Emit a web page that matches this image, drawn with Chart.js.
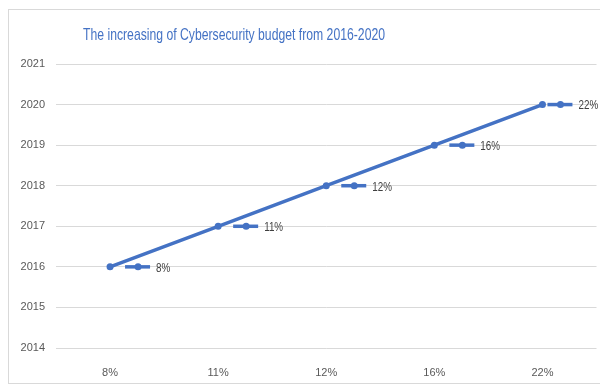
<!DOCTYPE html>
<html>
<head>
<meta charset="utf-8">
<script src="https://cdn.jsdelivr.net/npm/chart.js@4"></script>
<style>
html,body{margin:0;padding:0;background:#fff;}
#c{display:block;}
</style>
</head>
<body>
<canvas id="c" width="600" height="386"></canvas>
<script>
const categories = ['8%', '11%', '12%', '16%', '22%'];
const years = [2016, 2017, 2018, 2019, 2020];
const dataLabels = ['8%', '11%', '12%', '16%', '22%'];
const yMin = 2014, yMax = 2021;
const titleText = 'The increasing of Cybersecurity budget from 2016-2020';

const BLUE = '#4472C4';
const FONT = "'Liberation Sans', sans-serif";

function drawNarrow(ctx, text, x, y, targetW) {
  const w = ctx.measureText(text).width;
  const s = targetW ? targetW / w : 0.82;
  ctx.save();
  ctx.translate(x, y);
  ctx.scale(s, 1);
  ctx.fillText(text, 0, 0);
  ctx.restore();
}

const framePlugin = {
  id: 'frame',
  beforeDraw(chart) {
    const ctx = chart.ctx;
    ctx.save();
    ctx.fillStyle = '#fff';
    ctx.fillRect(0, 0, chart.width, chart.height);
    ctx.strokeStyle = '#d9d9d9';
    ctx.lineWidth = 1;
    ctx.strokeRect(8.5, 9.5, 600, 374);
    ctx.restore();
  },
  afterDraw(chart) {
    const ctx = chart.ctx;
    ctx.save();
    ctx.fillStyle = BLUE;
    ctx.font = "17px " + FONT;
    ctx.textBaseline = 'middle';
    ctx.textAlign = 'left';
    drawNarrow(ctx, titleText, 83, 35, 302);
    ctx.restore();
  }
};

const labelPlugin = {
  id: 'keyLabels',
  afterDatasetsDraw(chart) {
    const ctx = chart.ctx;
    const meta = chart.getDatasetMeta(0);
    ctx.save();
    meta.data.forEach((pt, i) => {
      const shift = (i === meta.data.length - 1) ? -10 : 0;
      const x = pt.x + shift, y = pt.y;
      ctx.strokeStyle = BLUE;
      ctx.lineWidth = 3.5;
      ctx.beginPath();
      ctx.moveTo(x + 15, y);
      ctx.lineTo(x + 40, y);
      ctx.stroke();
      ctx.fillStyle = BLUE;
      ctx.beginPath();
      ctx.arc(x + 28, y, 3.5, 0, Math.PI * 2);
      ctx.fill();
      ctx.fillStyle = '#404040';
      ctx.font = "12px " + FONT;
      ctx.textBaseline = 'middle';
      ctx.textAlign = 'left';
      drawNarrow(ctx, dataLabels[i], x + 46, y + 1.5);
    });
    ctx.restore();
  }
};

new Chart(document.getElementById('c'), {
  type: 'line',
  data: {
    labels: categories,
    datasets: [{
      data: years,
      borderColor: BLUE,
      backgroundColor: BLUE,
      borderWidth: 3.5,
      pointRadius: 3.5,
      pointBorderWidth: 0,
      pointHoverRadius: 3.5,
      pointBackgroundColor: BLUE,
      pointBorderColor: BLUE,
      tension: 0,
      fill: false
    }]
  },
  options: {
    responsive: false,
    animation: false,
    events: [],
    layout: { padding: { left: 0, top: 64, right: 3, bottom: 0 } },
    plugins: { legend: { display: false }, title: { display: false }, tooltip: { enabled: false } },
    scales: {
      x: {
        type: 'category',
        offset: true,
        grid: { display: false, drawTicks: false },
        border: { display: false },
        ticks: { color: '#595959', font: { family: FONT, size: 11 }, padding: 18, maxRotation: 0 },
        afterFit(s) { s.height = 38; }
      },
      y: {
        min: yMin,
        max: yMax,
        grid: { color: '#d9d9d9', drawTicks: false, lineWidth: 1 },
        border: { display: false },
        ticks: {
          stepSize: 1,
          color: '#595959',
          font: { family: FONT, size: 11 },
          padding: 11,
          callback: v => String(v)
        },
        afterFit(s) { s.width = 56; }
      }
    }
  },
  plugins: [framePlugin, labelPlugin]
});
</script>
</body>
</html>
